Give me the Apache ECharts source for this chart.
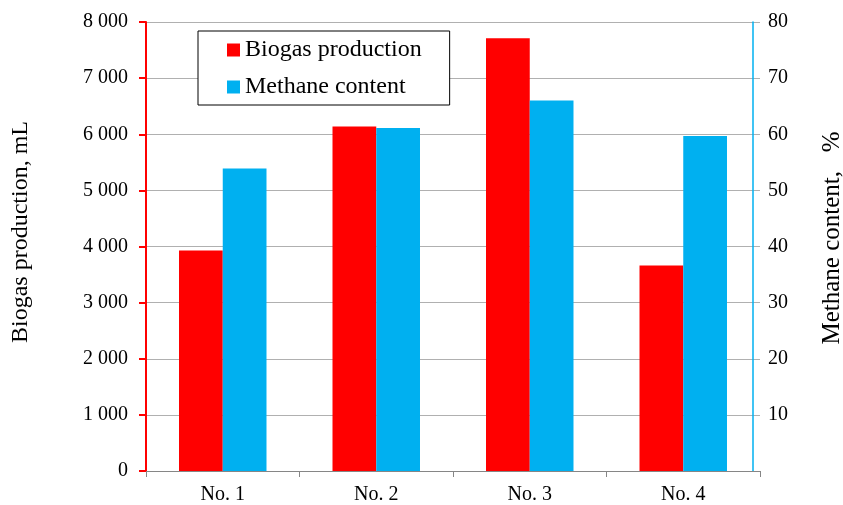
<!DOCTYPE html>
<html>
<head>
<meta charset="utf-8">
<script src="https://cdn.jsdelivr.net/npm/echarts@6/dist/echarts.min.js"></script>
<style>
  html, body { margin: 0; padding: 0; background: #fff; }
  #chart { width: 843px; height: 505px; }
</style>
</head>
<body>
<div id="chart"></div>
<script>
// Samples and measured values
const categories = ['No. 1', 'No. 2', 'No. 3', 'No. 4'];
const biogasProduction = [3930, 6140, 7710, 3660]; // mL
const methaneContent = [53.9, 61.1, 66.0, 59.7];   // %
const leftTicks = [0, 1000, 2000, 3000, 4000, 5000, 6000, 7000, 8000];
const rightTicks = [0, 10, 20, 30, 40, 50, 60, 70, 80];

const FONT = 'Liberation Serif';
const RED = '#ff0000';
const CYAN = '#00b0f0';

const chart = echarts.init(document.getElementById('chart'), null, { renderer: 'canvas' });

function spaced(v) {
  return String(v).replace(/\B(?=(\d{3})+(?!\d))/g, ' ');
}

chart.setOption({
  animation: false,
  backgroundColor: '#ffffff',
  grid: { left: 146, right: 83, top: 22, bottom: 33, containLabel: false },
  legend: {
    left: 198,
    top: 31,
    orient: 'vertical',
    itemWidth: 13,
    itemHeight: 13,
    itemGap: 13,
    padding: [7, 28, 6, 29],
    backgroundColor: '#ffffff',
    borderColor: '#000000',
    borderWidth: 1,
    textStyle: { fontFamily: FONT, fontSize: 24, color: '#000', lineHeight: 24 },
    data: [
      { name: 'Biogas production', icon: 'rect' },
      { name: 'Methane content', icon: 'rect' }
    ]
  },
  xAxis: {
    type: 'category',
    data: categories,
    axisLine: { show: true, lineStyle: { color: '#868686', width: 1 } },
    axisTick: { show: true, length: 6, lineStyle: { color: '#868686' } },
    axisLabel: { fontFamily: FONT, fontSize: 20, color: '#000', margin: 14 },
    splitLine: { show: false }
  },
  yAxis: [
    {
      type: 'value',
      min: leftTicks[0],
      max: leftTicks[leftTicks.length - 1],
      interval: leftTicks[1] - leftTicks[0],
      position: 'left',
      axisLine: { show: true, lineStyle: { color: RED, width: 2 } },
      axisTick: { show: true, length: 7, lineStyle: { color: RED, width: 2 } },
      axisLabel: { fontFamily: FONT, fontSize: 20, color: '#000', margin: 18, formatter: spaced },
      splitLine: { show: true, lineStyle: { color: '#b0b0b0', width: 1 } }
    },
    {
      type: 'value',
      min: rightTicks[0],
      max: rightTicks[rightTicks.length - 1],
      interval: rightTicks[1] - rightTicks[0],
      position: 'right',
      offset: -7,
      axisLine: { show: true, lineStyle: { color: CYAN, width: 1.5 } },
      axisTick: { show: false },
      axisLabel: {
        fontFamily: FONT, fontSize: 20, color: '#000', margin: 15,
        formatter: v => (v === 0 ? '' : String(v))
      },
      splitLine: { show: false }
    }
  ],
  series: [
    {
      name: 'Biogas production',
      type: 'bar',
      yAxisIndex: 0,
      data: biogasProduction,
      barGap: '0%',
      barCategoryGap: '43%',
      itemStyle: { color: RED }
    },
    {
      name: 'Methane content',
      type: 'bar',
      yAxisIndex: 1,
      data: methaneContent,
      barGap: '0%',
      barCategoryGap: '43%',
      itemStyle: { color: CYAN }
    }
  ],
  graphic: [
    {
      type: 'text',
      x: 21, y: 232,
      rotation: Math.PI / 2,
      style: {
        text: 'Biogas production, mL',
        fontFamily: FONT, fontSize: 24, fill: '#000',
        textAlign: 'center', textVerticalAlign: 'middle'
      }
    },
    {
      type: 'text',
      x: 832, y: 238,
      rotation: Math.PI / 2,
      style: {
        text: 'Methane content,   %',
        fontFamily: FONT, fontSize: 25, fill: '#000',
        textAlign: 'center', textVerticalAlign: 'middle'
      }
    }
  ]
});
</script>
</body>
</html>
